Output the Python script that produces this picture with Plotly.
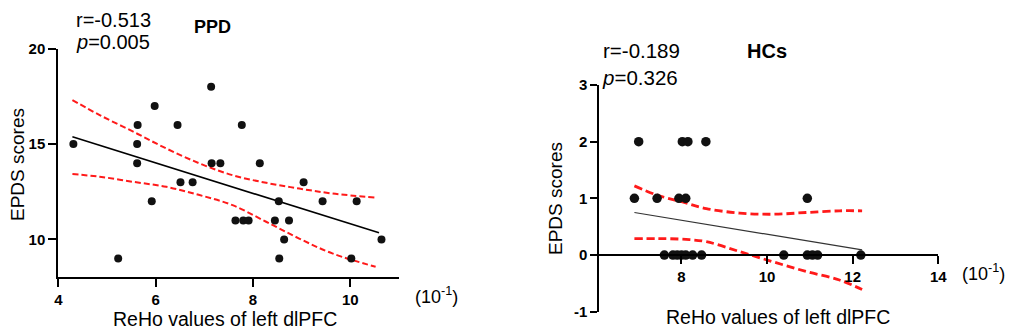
import plotly.graph_objects as go

W, H = 1013, 334
OFF = 8  # page body margin offset applied by the browser

# ---------------- PPD panel data ----------------
ppd_x = [4.31, 5.23, 5.62, 5.62, 5.63, 5.92, 5.98, 6.45, 6.51, 6.76, 7.14, 7.15, 7.33, 7.64,
         7.77, 7.80, 7.91, 8.14, 8.45, 8.53, 8.54, 8.64, 8.74, 9.04, 9.43, 10.02, 10.13, 10.64]
ppd_y = [15, 9, 14, 15, 16, 12, 17, 16, 13, 13, 18, 14, 14, 11,
         16, 11, 11, 14, 11, 12, 9, 10, 11, 13, 12, 9, 12, 10]
ppd_fit_x = [4.29, 10.59]
ppd_fit_y = [15.38, 10.35]
ppd_band_x = [4.29, 4.85, 5.54, 6.22, 6.90, 7.58, 8.27, 8.95, 9.63, 10.52]
ppd_upper = [17.31, 16.52, 15.65, 14.77, 13.99, 13.37, 12.97, 12.67, 12.41, 12.20]
ppd_lower = [13.43, 13.29, 13.02, 12.76, 12.33, 11.80, 10.93, 10.05, 9.27, 8.57]
ppd_xticks = [4, 6, 8, 10]
ppd_yticks = [10, 15, 20]

# ---------------- HCs panel data ----------------
hc_x = [7.00, 8.02, 8.15, 8.57,
        6.90, 7.43, 7.94, 8.10, 10.94,
        7.60, 7.80, 7.90, 8.00, 8.10, 8.26, 8.47, 10.39, 10.94, 11.06, 11.18, 12.19]
hc_y = [2, 2, 2, 2,
        1, 1, 1, 1, 1,
        0, 0, 0, 0, 0, 0, 0, 0, 0, 0, 0, 0]
hc_fit_x = [6.90, 12.22]
hc_fit_y = [0.75, 0.09]
hc_band_x = [6.90, 7.42, 8.00, 8.58, 9.36, 10.14, 10.91, 11.69, 12.22]
hc_upper = [1.22, 1.06, 0.94, 0.82, 0.74, 0.72, 0.75, 0.78, 0.78]
hc_lower = [0.29, 0.29, 0.28, 0.235, 0.06, -0.12, -0.29, -0.44, -0.61]
hc_xticks = [8, 10, 12, 14]
hc_yticks = [-1, 0, 1, 2, 3]


def px(x):
    return (x - OFF) / W


def py(y):
    return 1 - (y - OFF) / H


def bold_labels(vals):
    return ["<b>%s</b>" % v for v in vals]


FONT = "Liberation Sans"
RED = "#ff1a1a"

fig = go.Figure()

# PPD traces
fig.add_trace(go.Scatter(x=ppd_band_x, y=ppd_upper, mode="lines", xaxis="x", yaxis="y",
                         line=dict(color=RED, width=2, dash="6px,3px", shape="spline"), hoverinfo="skip"))
fig.add_trace(go.Scatter(x=ppd_band_x, y=ppd_lower, mode="lines", xaxis="x", yaxis="y",
                         line=dict(color=RED, width=2, dash="6px,3px", shape="spline"), hoverinfo="skip"))
fig.add_trace(go.Scatter(x=ppd_fit_x, y=ppd_fit_y, mode="lines", xaxis="x", yaxis="y",
                         line=dict(color="black", width=1.6)))
fig.add_trace(go.Scatter(x=ppd_x, y=ppd_y, mode="markers", xaxis="x", yaxis="y",
                         marker=dict(color="#111111", size=8)))

# HCs traces
fig.add_trace(go.Scatter(x=hc_band_x, y=hc_upper, mode="lines", xaxis="x2", yaxis="y2",
                         line=dict(color=RED, width=2.8, dash="8px,4px", shape="spline"), hoverinfo="skip"))
fig.add_trace(go.Scatter(x=hc_band_x, y=hc_lower, mode="lines", xaxis="x2", yaxis="y2",
                         line=dict(color=RED, width=2.8, dash="8px,4px", shape="spline"), hoverinfo="skip"))
fig.add_trace(go.Scatter(x=hc_fit_x, y=hc_fit_y, mode="lines", xaxis="x2", yaxis="y2",
                         line=dict(color="#333333", width=1.2)))
fig.add_trace(go.Scatter(x=hc_x, y=hc_y, mode="markers", xaxis="x2", yaxis="y2",
                         marker=dict(color="#111111", size=9.5), cliponaxis=False))

tickfont = dict(family=FONT, size=15, color="black")
axis_common = dict(showgrid=False, zeroline=False, showline=True, linecolor="black",
                   linewidth=2, ticks="outside", ticklen=8, tickwidth=2, tickcolor="black",
                   tickfont=tickfont, fixedrange=True, automargin=False)

# PPD axes domains (pixels -> paper)
x1_dom = [px(58.3), px(399)]
y1_dom = [py(276.7), py(48.7)]
# HCs axes domains
x2_dom = [px(599.3), px(938.3)]
y2_dom = [py(311.7), py(85)]
y2_range = [-1, 3]
zero_pos = y2_dom[0] + (0 - y2_range[0]) / (y2_range[1] - y2_range[0]) * (y2_dom[1] - y2_dom[0])

fig.update_layout(
    template="none",
    width=W, height=H, margin=dict(l=0, r=0, t=0, b=0, pad=0, autoexpand=False),
    paper_bgcolor="white", plot_bgcolor="white", showlegend=False,
    xaxis=dict(domain=x1_dom, range=[4, 11], tickvals=ppd_xticks,
               ticktext=bold_labels(ppd_xticks), anchor="y", **axis_common),
    yaxis=dict(domain=y1_dom, range=[8.05, 20], tickvals=ppd_yticks,
               ticktext=bold_labels(ppd_yticks), anchor="x", **axis_common),
    xaxis2=dict(domain=x2_dom, range=[6.08, 14], tickvals=hc_xticks,
                ticktext=bold_labels(hc_xticks), anchor="free", position=zero_pos, **axis_common),
    yaxis2=dict(domain=y2_dom, range=y2_range, tickvals=hc_yticks,
                ticktext=bold_labels(hc_yticks), anchor="x2",
                **{**axis_common, "ticklen": 7}),
)

ann = []


def text(x, y, s, size, xanchor="left", bold=False, angle=0):
    ann.append(dict(x=px(x), y=py(y), xref="paper", yref="paper",
                    text=("<b>%s</b>" % s) if bold else s, showarrow=False,
                    xanchor=xanchor, yanchor="middle", textangle=angle, borderpad=0,
                    font=dict(family=FONT, size=size, color="black")))


# PPD texts
text(75, 20, "r=-0.513", 20)
text(75, 42, "<i>p</i>=0.005", 20)
text(212, 27, "PPD", 18, xanchor="center", bold=True)
text(225, 319, "ReHo values of left dlPFC", 19.5, xanchor="center")
text(17, 165, "EPDS scores", 19, xanchor="center", angle=-90)
text(414, 295, "(10<sup>-1</sup>)", 18)

# HCs texts
text(602, 51, "r=-0.189", 20.5)
text(601, 77, "<i>p</i>=0.326", 20.5)
text(767, 51, "HCs", 20, xanchor="center", bold=True)
text(778, 317, "ReHo values of left dlPFC", 19.5, xanchor="center")
text(555, 199, "EPDS scores", 19, xanchor="center", angle=-90)
text(961, 272, "(10<sup>-1</sup>)", 18)

fig.update_layout(annotations=ann)

fig.write_html("out.html")
